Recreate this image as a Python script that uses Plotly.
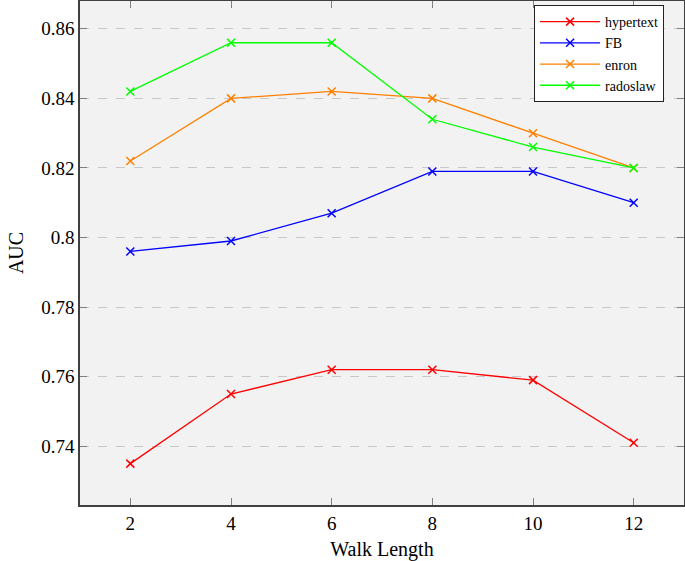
import plotly.graph_objects as go

walk_length = [2, 4, 6, 8, 10, 12]
hypertext = [0.735, 0.755, 0.762, 0.762, 0.759, 0.741]
fb = [0.796, 0.799, 0.807, 0.819, 0.819, 0.810]
enron = [0.822, 0.840, 0.842, 0.840, 0.830, 0.820]
radoslaw = [0.842, 0.856, 0.856, 0.834, 0.826, 0.820]
y_ticks = [0.74, 0.76, 0.78, 0.80, 0.82, 0.84, 0.86]
y_tick_labels = ["0.74", "0.76", "0.78", "0.8", "0.82", "0.84", "0.86"]

series = [("hypertext", hypertext, "#ff0000"),
          ("FB", fb, "#0000ff"),
          ("enron", enron, "#ff8000"),
          ("radoslaw", radoslaw, "#00ff00")]

fig = go.Figure()
for name, vals, col in series:
    fig.add_trace(go.Scatter(
        x=walk_length, y=vals, name=name, mode="lines+markers",
        line=dict(color=col, width=1.3),
        marker=dict(symbol="x-thin", size=8, line=dict(color=col, width=1.5)),
    ))

font = "Liberation Serif, DejaVu Serif, serif"
fig.update_layout(
    width=685, height=561,
    margin=dict(l=80, r=1, t=1, b=56),
    paper_bgcolor="white", plot_bgcolor="#f2f2f2",
    font=dict(family=font, size=18, color="black"),
    showlegend=True,
    legend=dict(x=0.967, y=0.992, xanchor="right", yanchor="top",
                bgcolor="white", bordercolor="#222222", borderwidth=1,
                font=dict(size=14, family=font), tracegroupgap=0,
                itemwidth=60),
    xaxis=dict(range=[1, 13], tickvals=walk_length,
               ticktext=[str(v) for v in walk_length],
               ticks="inside", ticklen=7, tickcolor="#808080",
               showline=True, linecolor="#404040", linewidth=1.5, mirror="ticks",
               showgrid=False, zeroline=False, automargin=False,
               title=dict(text="Walk Length", font=dict(size=20), standoff=10),
               tickfont=dict(size=19)),
    yaxis=dict(range=[0.7231, 0.868], tickvals=y_ticks, ticktext=y_tick_labels,
               ticks="inside", ticklen=7, tickcolor="#808080",
               showline=True, linecolor="#404040", linewidth=1.5, mirror="ticks",
               showgrid=True, gridcolor="#c8c8c8", griddash="dash", gridwidth=1,
               zeroline=False, automargin=False,
               title=dict(text="AUC", font=dict(size=20), standoff=12),
               tickfont=dict(size=19)),
)
fig.write_html("out.html", config={"displayModeBar": False})

with open("out.html", "r", encoding="utf-8") as f:
    html = f.read()
html = html.replace("<head>", "<head><style>html,body{margin:0;padding:0;overflow:hidden}</style>", 1)
with open("out.html", "w", encoding="utf-8") as f:
    f.write(html)
